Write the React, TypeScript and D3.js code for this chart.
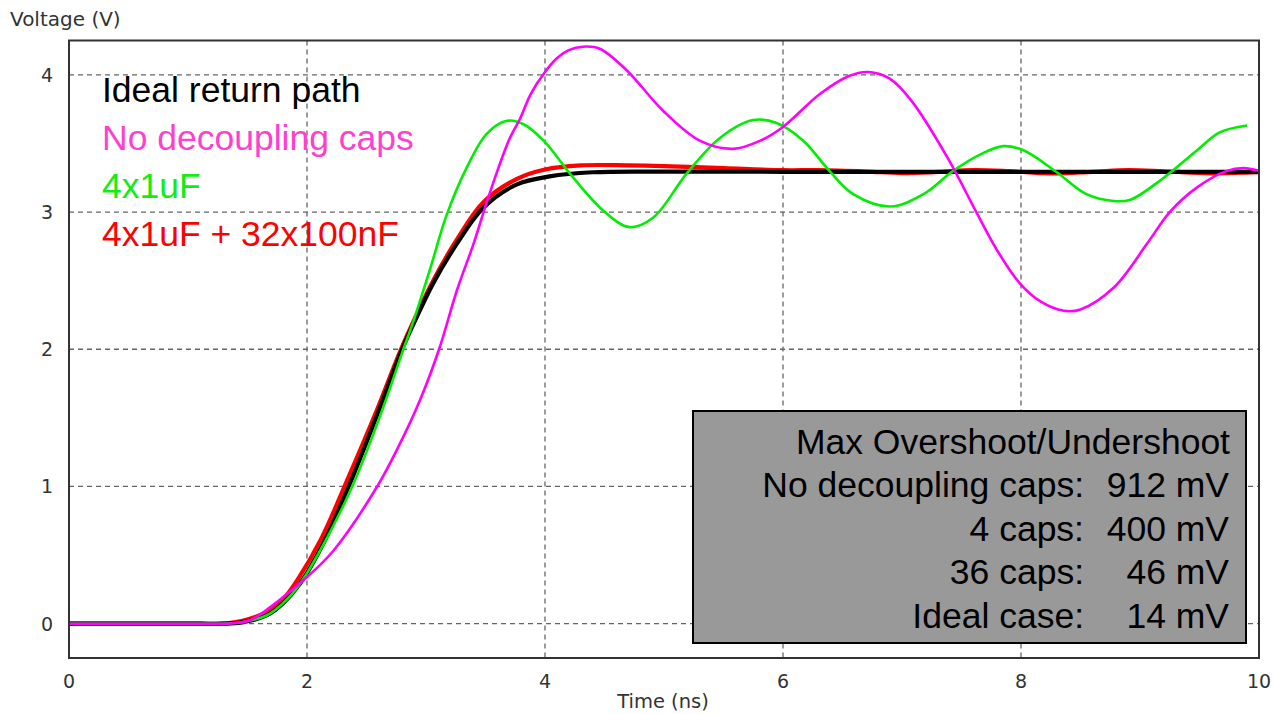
import React from "react";
import * as d3 from "d3";

// ---- data (time in ns, voltage in V) ----
const xTicks = [0, 2, 4, 6, 8, 10];
const yTicks = [0, 1, 2, 3, 4];

const idealT = [0, 0.6, 1.1, 1.3, 1.45, 1.66, 1.8, 1.94, 2.14, 2.36, 2.58, 2.8, 2.92, 3.06, 3.26, 3.48, 3.76, 4.04, 4.4, 5, 6, 7, 8, 9, 10];
const idealV = [0, 0, 0, 0, 0.01, 0.06, 0.15, 0.29, 0.59, 1.02, 1.5, 2.0, 2.23, 2.48, 2.77, 3.03, 3.2, 3.26, 3.29, 3.295, 3.293, 3.293, 3.293, 3.293, 3.293];

const fullT = [0, 0.6, 1.1, 1.28, 1.45, 1.65, 1.8, 1.92, 2.12, 2.34, 2.57, 2.79, 2.92, 3.06, 3.26, 3.48, 3.76, 4.0, 4.3, 4.7, 5.0, 5.5, 6.0, 6.3, 6.7, 7.0, 7.3, 7.6, 7.9, 8.25, 8.6, 8.9, 9.2, 9.6, 10];
const fullV = [0, 0, 0, 0, 0.02, 0.08, 0.18, 0.32, 0.62, 1.05, 1.52, 2.0, 2.25, 2.5, 2.8, 3.07, 3.24, 3.31, 3.34, 3.34, 3.335, 3.32, 3.305, 3.305, 3.295, 3.284, 3.292, 3.305, 3.298, 3.282, 3.293, 3.305, 3.297, 3.282, 3.29];

const fourT = [0, 0.6, 1.1, 1.3, 1.45, 1.66, 1.8, 1.94, 2.14, 2.38, 2.6, 2.81, 2.9, 3.04, 3.17, 3.34, 3.51, 3.68, 3.82, 4.0, 4.21, 4.49, 4.71, 4.91, 5.19, 5.47, 5.75, 5.94, 6.17, 6.39, 6.59, 6.9, 7.18, 7.43, 7.66, 7.85, 8.02, 8.3, 8.55, 8.78, 8.92, 9.2, 9.48, 9.67, 9.9];
const fourV = [0, 0, 0, 0, 0.01, 0.06, 0.15, 0.29, 0.58, 1.0, 1.48, 2.0, 2.22, 2.6, 2.97, 3.32, 3.57, 3.665, 3.64, 3.51, 3.28, 3.01, 2.89, 2.96, 3.28, 3.54, 3.67, 3.65, 3.52, 3.3, 3.13, 3.04, 3.13, 3.3, 3.42, 3.48, 3.45, 3.29, 3.13, 3.08, 3.09, 3.25, 3.45, 3.58, 3.63];

const noneT = [0, 0.6, 1.1, 1.3, 1.52, 1.75, 2.0, 2.22, 2.59, 2.78, 2.95, 3.11, 3.26, 3.4, 3.51, 3.6, 3.7, 3.79, 3.88, 4.0, 4.1, 4.2, 4.32, 4.46, 4.69, 4.99, 5.3, 5.58, 5.81, 6.0, 6.31, 6.55, 6.72, 6.9, 7.08, 7.38, 7.63, 7.8, 7.99, 8.16, 8.36, 8.5, 8.78, 9.06, 9.25, 9.48, 9.73, 9.87, 10];
const noneV = [0, 0, 0, 0, 0.025, 0.16, 0.34, 0.53, 1.0, 1.31, 1.63, 2.0, 2.43, 2.77, 3.07, 3.3, 3.53, 3.68, 3.86, 4.02, 4.12, 4.18, 4.205, 4.19, 4.03, 3.74, 3.52, 3.46, 3.52, 3.62, 3.86, 3.99, 4.02, 3.97, 3.81, 3.4, 2.99, 2.72, 2.48, 2.35, 2.28, 2.29, 2.45, 2.77, 3.0, 3.18, 3.3, 3.32, 3.3];

const legendLabels = ["Ideal return path", "No decoupling caps", "4x1uF", "4x1uF + 32x100nF"];
const legendColors = ["#000000", "#ff3fcf", "#11ee11", "#ff0000"];

const statTitle = "Max Overshoot/Undershoot";
const statLabels = ["No decoupling caps:", "4 caps:", "36 caps:", "Ideal case:"];
const statValues = ["912 mV", "400 mV", "46 mV", "14 mV"];

// ---- layout ----
const W = 1274, H = 714;
const L = 69, R = 1259, T = 40.5, B = 658;

export default function App() {
  const x = d3.scaleLinear().domain([0, 10]).range([L, R]);
  const y = d3.scaleLinear().domain([-0.25, 4.25]).range([B, T]);
  const line = d3.line<[number, number]>()
    .x((d) => x(d[0]))
    .y((d) => y(d[1]))
    .curve(d3.curveCatmullRom.alpha(0.5));
  const mk = (ts: number[], vs: number[]) => line(ts.map((t, i) => [t, vs[i]] as [number, number])) || "";

  const series = [
    { d: mk(fullT, fullV), c: "#ff0000", w: 4.2 },
    { d: mk(idealT, idealV), c: "#000000", w: 4.2 },
    { d: mk(fourT, fourV), c: "#00ee00", w: 2.6 },
    { d: mk(noneT, noneV), c: "#ff00ff", w: 2.6 },
  ];

  const axisFont = "'DejaVu Sans', Verdana, sans-serif";
  const bigFont = "'Liberation Sans', Arial, sans-serif";

  return (
    <svg width={W} height={H} style={{ position: "absolute", left: 0, top: 0, background: "#fff" }}>
      <defs>
        <clipPath id="plot">
          <rect x={L} y={T} width={R - L} height={B - T} />
        </clipPath>
      </defs>
      <rect x={0} y={0} width={W} height={H} fill="#fff" />
      {/* grid */}
      {xTicks.filter((t) => t > 0 && t < 10).map((t) => (
        <line key={"gx" + t} x1={x(t)} x2={x(t)} y1={T} y2={B} stroke="#666" strokeWidth={1.3} strokeDasharray="5,4" />
      ))}
      {yTicks.map((t) => (
        <line key={"gy" + t} x1={L} x2={R} y1={y(t)} y2={y(t)} stroke="#666" strokeWidth={1.3} strokeDasharray="5,4" />
      ))}
      {/* stats box */}
      <rect x={693} y={411} width={553} height={232} fill="#999999" stroke="#000" strokeWidth={2} />
      <text x={1230} y={453.5} textAnchor="end" fontFamily={bigFont} fontSize={35.5} fill="#000">{statTitle}</text>
      {statLabels.map((s, i) => (
        <g key={"st" + i}>
          <text x={1084} y={497 + i * 43.5} textAnchor="end" fontFamily={bigFont} fontSize={35.5} fill="#000">{s}</text>
          <text x={1229} y={497 + i * 43.5} textAnchor="end" fontFamily={bigFont} fontSize={35.5} fill="#000">{statValues[i]}</text>
        </g>
      ))}
      {/* curves */}
      <g clipPath="url(#plot)">
        {series.map((s, i) => (
          <path key={"s" + i} d={s.d} fill="none" stroke={s.c} strokeWidth={s.w} strokeLinejoin="round" />
        ))}
      </g>
      {/* frame */}
      <rect x={L} y={T} width={R - L} height={B - T} fill="none" stroke="#333" strokeWidth={2} />
      {/* legend */}
      {legendLabels.map((s, i) => (
        <text key={"lg" + i} x={102} y={102 + i * 48} fontFamily={bigFont} fontSize={35.5} fill={legendColors[i]}>{s}</text>
      ))}
      {/* ticks labels */}
      {xTicks.map((t) => (
        <text key={"xt" + t} x={x(t)} y={688} textAnchor="middle" fontFamily={axisFont} fontSize={19} fill="#333">{t}</text>
      ))}
      {yTicks.map((t) => (
        <text key={"yt" + t} x={53} y={y(t) + 7} textAnchor="end" fontFamily={axisFont} fontSize={19} fill="#333">{t}</text>
      ))}
      <text x={663} y={708} textAnchor="middle" fontFamily={axisFont} fontSize={19.5} fill="#333">Time (ns)</text>
      <text x={10} y={26} fontFamily={axisFont} fontSize={20} fill="#333">Voltage (V)</text>
    </svg>
  );
}
